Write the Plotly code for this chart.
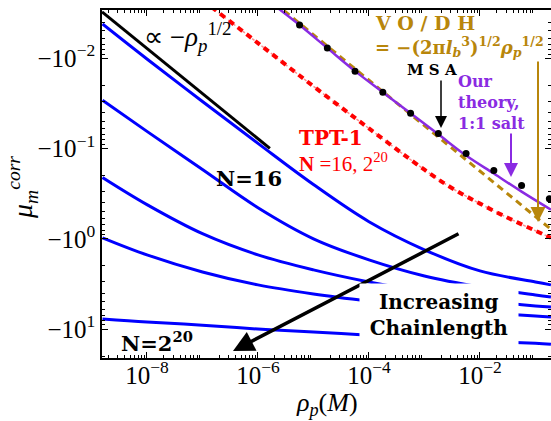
import plotly.graph_objects as go

# ---------------- data ----------------
rho_grid = [1.58e-9, 1e-8, 1e-7, 1e-6, 1e-5, 1e-4, 1e-3, 1e-2, 1e-1, 0.19]
# magnitudes of mu_m^corr (values are negative; axis shows -10^k)
mu_N16   = [0.00419, 0.01023, 0.0302, 0.0879, 0.251, 0.647, 1.324, 2.27, 3.01, 3.24]
mu_N2    = [0.0293, 0.0647, 0.171, 0.453, 1.000, 1.710, 2.58, 3.41, 4.19, 4.41]
mu_N3    = [0.210, 0.419, 0.879, 1.507, 2.21, 3.01, 3.88, 4.76, 5.55, 5.70]
mu_N4    = [0.975, 1.507, 2.33, 3.24, 4.08, 4.89, 5.70, 6.47, 7.18, 7.36]
mu_N2_20 = [7.74, 8.36, 9.04, 10.0, 10.79, 11.67, 12.59, 13.58, 14.32, 14.69]

rho_tpt = [5e-8, 1e-7, 1e-6, 1e-5, 1e-4, 1e-3, 3.16e-3, 1e-2, 3.16e-2, 1e-1, 0.19]
mu_tpt  = [0.00162, 0.00227, 0.00681, 0.0205, 0.0600, 0.172, 0.276, 0.408, 0.585, 0.815, 0.975]

rho_sqrt = [1.55e-9, 1.64e-6]
mu_sqrt  = [0.00308, 0.100]

rho_vodh = [2.0e-6, 0.19]
mu_vodh  = [0.00245, 0.785]

rho_theory = [1.778e-6, 5.62e-6, 1.778e-5, 5.62e-5, 1.778e-4, 5.62e-4, 1.778e-3,
              5.62e-3, 0.01778, 0.0562, 0.19]
mu_theory  = [0.00248, 0.0043, 0.00774, 0.01393, 0.02388, 0.0408, 0.0698,
              0.1197, 0.1897, 0.3006, 0.4764]

rho_msa = [5.62e-6, 1.778e-5, 5.62e-5, 1.778e-4, 5.62e-4, 1.778e-3, 5.62e-3,
           0.01778, 0.0562, 0.178]
mu_msa  = [0.0043, 0.00774, 0.01393, 0.02388, 0.0408, 0.0681, 0.1138,
           0.1754, 0.2576, 0.3597]

x_ticks = [1e-8, 1e-6, 1e-4, 1e-2]
x_ticktext = ["10<sup>−8</sup>", "10<sup>−6</sup>", "10<sup>−4</sup>", "10<sup>−2</sup>"]
y_ticks = [1e-2, 1e-1, 1e0, 1e1]
y_ticktext = ["−10<sup>−2</sup>", "−10<sup>−1</sup>", "−10<sup>0</sup>", "−10<sup>1</sup>"]

# ---------------- styling ----------------
BLUE = "#0000ff"
PURPLE = "#8a2be2"
GOLD = "#b8860b"
RED = "#ff0000"
W, H = 551, 421
L, R, T, B = 102, 0, 10, 63
PW, PH = W - L - R, H - T - B

def px(xp, yp):
    return (xp - L) / PW, (H - B - yp) / PH

fig = go.Figure()

for mu in [mu_N16, mu_N2, mu_N3, mu_N4, mu_N2_20]:
    fig.add_trace(go.Scatter(x=rho_grid, y=mu, mode="lines",
                             line=dict(color=BLUE, width=3, shape="spline", smoothing=1.0),
                             showlegend=False))

fig.add_trace(go.Scatter(x=rho_tpt, y=mu_tpt, mode="lines",
                         line=dict(color="#ff9090", width=1.5, dash="dot", shape="spline"),
                         showlegend=False))
fig.add_trace(go.Scatter(x=rho_tpt, y=mu_tpt, mode="lines",
                         line=dict(color=RED, width=4, dash="6px,5px", shape="spline"),
                         showlegend=False))

fig.add_trace(go.Scatter(x=rho_sqrt, y=mu_sqrt, mode="lines",
                         line=dict(color="black", width=3), showlegend=False))

fig.add_trace(go.Scatter(x=rho_vodh, y=mu_vodh, mode="lines",
                         line=dict(color=GOLD, width=3, dash="7px,5px"), showlegend=False))

fig.add_trace(go.Scatter(x=rho_theory, y=mu_theory, mode="lines",
                         line=dict(color=PURPLE, width=2.5, shape="spline"), showlegend=False))

fig.add_trace(go.Scatter(x=rho_msa, y=mu_msa, mode="markers",
                         marker=dict(color="black", size=7), showlegend=False))

# minor tick positions
x_minor = [k * 10.0 ** d for d in range(-10, 0) for k in range(2, 10)]
y_minor = [k * 10.0 ** d for d in range(-3, 2) for k in range(2, 10)]

SERIF = "Liberation Serif"
BOLD = "DejaVu Serif"

fig.update_xaxes(type="log", range=[-8.81, -0.72], automargin=False,
                 tickvals=x_ticks, ticktext=x_ticktext,
                 ticks="inside", ticklen=6, tickwidth=1, tickcolor="black",
                 showline=True, linecolor="black", linewidth=1.5, mirror="ticks",
                 showgrid=False, zeroline=False, ticklabelstandoff=-6,
                 tickfont=dict(family=SERIF, size=25, color="black"),
                 minor=dict(tickvals=x_minor, ticks="inside", ticklen=3,
                            tickcolor="black", showgrid=False))
fig.update_yaxes(type="log", range=[1.32, -2.533], automargin=False,
                 tickvals=y_ticks, ticktext=y_ticktext,
                 ticks="inside", ticklen=6, tickwidth=1, tickcolor="black",
                 showline=True, linecolor="black", linewidth=1.5, mirror="ticks",
                 showgrid=False, zeroline=False,
                 tickfont=dict(family=SERIF, size=25, color="black"),
                 minor=dict(tickvals=y_minor, ticks="inside", ticklen=3,
                            tickcolor="black", showgrid=False))

ann = []

def label(text, xp, yp, size, color="black", family=BOLD, xanchor="center", **kw):
    X, Y = px(xp, yp)
    ann.append(dict(text=text, x=X, y=Y, xref="paper", yref="paper",
                    xanchor=xanchor, yanchor="middle", showarrow=False,
                    font=dict(family=family, size=size, color=color), **kw))

def arrow(tip, tail, color, width, head=2, size=1.0):
    X, Y = px(*tip)
    ann.append(dict(text="", x=X, y=Y, xref="paper", yref="paper",
                    ax=tail[0] - tip[0], ay=tail[1] - tip[1],
                    showarrow=True, arrowhead=head, arrowsize=size,
                    arrowwidth=width, arrowcolor=color, standoff=0))

# axis titles
label("<i>ρ</i><sub><i>p</i></sub>(<i>M</i>)", 327, 404, 26, family=SERIF)
label("<i>μ</i><sub><i>m</i></sub><sup><i>corr</i></sup>", 22, 188, 28, family=SERIF, textangle=-90)

label("∝ −<i>ρ</i><sub><i>p</i></sub><sup>1/2</sup>", 188, 37, 27, family=SERIF)
label("<b>N=16</b>", 249, 178, 21)
label("<b>N=2<sup>20</sup></b>", 157, 342, 21)
label("<b>TPT-1</b>", 297, 138, 20, color=RED, xanchor="left")
label("<b>N</b> =16, 2<sup>20</sup>", 297, 162, 21, color=RED, family=SERIF, xanchor="left")
label("<b>V O / D H</b>", 373, 23, 19, color=GOLD, xanchor="left")
label("<b>= −(2π<i>l</i><sub><i>b</i></sub><sup>3</sup>)<sup>1/2</sup><i>ρ</i><sub><i>p</i></sub><sup>1/2</sup></b>",
      373, 47, 18, color=GOLD, xanchor="left")
label("<b>M S A</b>", 432, 70, 15)
label("<b>Our<br>theory,<br>1:1 salt</b>", 456, 102, 16, color=PURPLE, xanchor="left", align="left")

arrow((233, 351), (460, 233), "black", 3.5, head=2, size=1.2)
arrow((441, 128), (441, 79), "black", 1.5, head=2, size=1.6)
arrow((511, 177), (511, 132), PURPLE, 2, head=2, size=1.4)
arrow((538, 222), (538, 60), GOLD, 2, head=2, size=1.5)

X, Y = px(439, 315)
ann.append(dict(text="<b>Increasing<br>Chainlength</b>", x=X, y=Y, xref="paper", yref="paper",
                xanchor="center", yanchor="middle", showarrow=False,
                width=156, height=60, bgcolor="white",
                font=dict(family=BOLD, size=20, color="black")))

fig.update_layout(width=W, height=H, margin=dict(l=L, r=R, t=T, b=B, autoexpand=False),
                  paper_bgcolor="white", plot_bgcolor="white",
                  annotations=ann, showlegend=False)

fig.write_html("out.html", config={"displayModeBar": False},
               post_script="document.body.style.margin='0';document.body.style.overflow='hidden';")
